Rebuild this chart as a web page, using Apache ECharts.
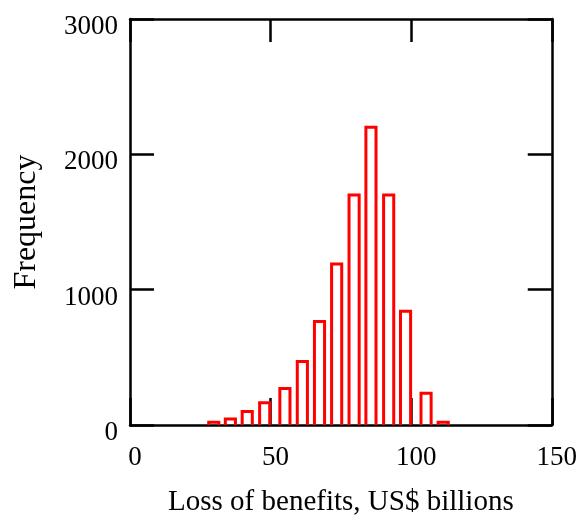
<!DOCTYPE html>
<html>
<head>
<meta charset="utf-8">
<script src="https://cdn.jsdelivr.net/npm/echarts@6/dist/echarts.min.js"></script>
<style>
html,body{margin:0;padding:0;background:#fff;}
#chart{width:580px;height:522px;}
</style>
</head>
<body>
<div id="chart"></div>
<script>
// Data
var binCenters = [29.8, 35.7, 41.7, 47.9, 55.1, 61.3, 67.4, 73.5, 79.7, 85.7, 92.0, 98.0, 105.3, 111.4];
var frequencies = [20, 45, 100, 165, 270, 470, 765, 1190, 1700, 2200, 1700, 840, 235, 20];
var xRange = [0, 150];
var yRange = [0, 3000];
var xTickStep = 50;
var yTickStep = 1000;
var xTitle = 'Loss of benefits, US$ billions';
var yTitle = 'Frequency';

var points = binCenters.map(function (c, i) { return [c, frequencies[i]]; });

var HALF_WIDTH = 1.8; // half bar width in data units
var FONT = 'Liberation Serif';

var chart = echarts.init(document.getElementById('chart'), null, { renderer: 'canvas' });

function axisCommon(extra) {
  var base = {
    type: 'value',
    axisLine: { show: true, onZero: false, lineStyle: { color: '#000', width: 2.5 } },
    axisTick: { show: true, inside: true, length: 24, lineStyle: { color: '#000', width: 2.5 } },
    splitLine: { show: false },
    axisLabel: { show: false }
  };
  for (var k in extra) base[k] = extra[k];
  return base;
}

function plain(v) { return String(v); }

chart.setOption({
  animation: false,
  backgroundColor: '#fff',
  grid: { left: 130, top: 19, width: 422, height: 410, containLabel: false },
  xAxis: [
    axisCommon({
      position: 'bottom', min: xRange[0], max: xRange[1], interval: xTickStep,
      axisTick: { show: true, inside: true, length: 27, lineStyle: { color: '#000', width: 2.5 } },
      axisLabel: { show: true, color: '#000', fontFamily: FONT, fontSize: 27, margin: 19, padding: [0, 0, 0, 10], formatter: plain },
      name: xTitle, nameLocation: 'middle', nameGap: 63,
      nameTextStyle: { color: '#000', fontFamily: FONT, fontSize: 29 }
    }),
    axisCommon({
      position: 'top', min: xRange[0], max: xRange[1], interval: xTickStep,
      axisTick: { show: true, inside: true, length: 23, lineStyle: { color: '#000', width: 2.5 } }
    })
  ],
  yAxis: [
    axisCommon({
      position: 'left', min: yRange[0], max: yRange[1], interval: yTickStep,
      axisLabel: { show: true, color: '#000', fontFamily: FONT, fontSize: 27, margin: 12, verticalAlign: 'top', lineHeight: 16, formatter: plain },
      name: yTitle, nameLocation: 'middle', nameGap: 87, nameRotate: 90,
      nameTextStyle: { color: '#000', fontFamily: FONT, fontSize: 32 }
    }),
    axisCommon({
      position: 'right', min: yRange[0], max: yRange[1], interval: yTickStep
    })
  ],
  series: [{
    type: 'custom',
    xAxisIndex: 0,
    yAxisIndex: 0,
    data: points,
    renderItem: function (params, api) {
      var x = api.value(0), y = api.value(1);
      var tl = api.coord([x - HALF_WIDTH, y]);
      var br = api.coord([x + HALF_WIDTH, 0]);
      return {
        type: 'polyline',
        shape: { points: [[tl[0], br[1]], [tl[0], tl[1]], [br[0], tl[1]], [br[0], br[1]]] },
        style: { stroke: '#ff0000', lineWidth: 3, fill: null }
      };
    }
  }]
});
</script>
</body>
</html>
